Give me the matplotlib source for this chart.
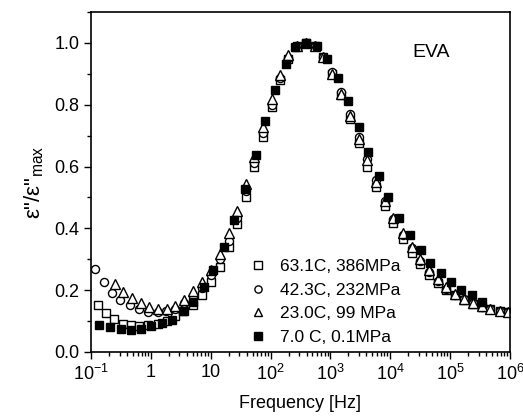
import matplotlib
matplotlib.use("Agg")
import matplotlib.pyplot as plt
from matplotlib.ticker import FixedLocator, FixedFormatter, LogLocator, MultipleLocator, NullFormatter

plt.rcParams["font.family"] = ["Liberation Sans", "DejaVu Sans"]
plt.rcParams["mathtext.fontset"] = "custom"
plt.rcParams["mathtext.rm"] = "Liberation Sans"
plt.rcParams["mathtext.it"] = "Liberation Sans:italic"
plt.rcParams["mathtext.default"] = "regular"

# log10 of frequency [Hz] and normalised loss
logf_63 = [-0.89, -0.75, -0.62, -0.47, -0.34, -0.19, -0.04, 0.12, 0.27, 0.41, 0.56,
           0.71, 0.85, 1.00, 1.15, 1.30, 1.44, 1.59, 1.73, 1.88, 2.02, 2.16, 2.30,
           2.45, 2.60, 2.75, 2.88, 3.03, 3.17, 3.32, 3.47, 3.62, 3.76, 3.91, 4.05,
           4.21, 4.36, 4.50, 4.65, 4.79, 4.94, 5.09, 5.23, 5.38, 5.53, 5.67, 5.83, 5.97]
eps_63 = [0.153, 0.126, 0.106, 0.091, 0.086, 0.085, 0.086, 0.090, 0.101, 0.115, 0.131,
          0.151, 0.185, 0.225, 0.276, 0.339, 0.413, 0.502, 0.597, 0.696, 0.792, 0.881, 0.948,
          0.989, 1.000, 0.990, 0.955, 0.900, 0.830, 0.755, 0.677, 0.600, 0.535, 0.473, 0.416,
          0.365, 0.320, 0.284, 0.249, 0.223, 0.200, 0.183, 0.169, 0.156, 0.147, 0.139, 0.134, 0.130]

logf_42 = [-0.93, -0.79, -0.65, -0.51, -0.35, -0.20, -0.05, 0.12, 0.26, 0.41, 0.56,
           0.71, 0.85, 1.00, 1.15, 1.30, 1.44, 1.59, 1.73, 1.88, 2.02, 2.16, 2.30,
           2.45, 2.60, 2.75, 2.88, 3.03, 3.17, 3.32, 3.47, 3.62, 3.76, 3.91, 4.05,
           4.21, 4.36, 4.50, 4.65, 4.79, 4.94, 5.09, 5.23, 5.38, 5.53, 5.67, 5.83, 5.97]
eps_42 = [0.268, 0.226, 0.190, 0.169, 0.153, 0.139, 0.129, 0.128, 0.132, 0.140, 0.160,
          0.180, 0.208, 0.248, 0.300, 0.360, 0.435, 0.520, 0.610, 0.710, 0.800, 0.885, 0.950,
          0.990, 1.000, 0.990, 0.955, 0.905, 0.840, 0.770, 0.695, 0.625, 0.555, 0.490, 0.430,
          0.380, 0.335, 0.295, 0.258, 0.230, 0.205, 0.185, 0.170, 0.157, 0.147, 0.139, 0.134, 0.130]

logf_23 = [-0.60, -0.46, -0.32, -0.17, -0.03, 0.12, 0.27, 0.41, 0.56,
           0.71, 0.85, 1.00, 1.15, 1.30, 1.44, 1.59, 1.73, 1.88, 2.02, 2.16, 2.30,
           2.45, 2.60, 2.75, 2.88, 3.03, 3.17, 3.32, 3.47, 3.62, 3.76, 3.91, 4.05,
           4.21, 4.36, 4.50, 4.65, 4.79, 4.94, 5.09, 5.23, 5.38, 5.53, 5.67, 5.83, 5.97]
eps_23 = [0.220, 0.193, 0.174, 0.158, 0.145, 0.139, 0.139, 0.150, 0.167,
          0.196, 0.225, 0.265, 0.317, 0.384, 0.457, 0.545, 0.630, 0.728, 0.820, 0.895, 0.960,
          0.990, 1.000, 0.990, 0.955, 0.900, 0.835, 0.765, 0.690, 0.620, 0.550, 0.490, 0.435,
          0.385, 0.340, 0.300, 0.265, 0.235, 0.210, 0.188, 0.172, 0.158, 0.148, 0.139, 0.134, 0.130]

logf_7 = [-0.87, -0.68, -0.50, -0.34, -0.17, 0.01, 0.18, 0.35, 0.54, 0.71, 0.88,
          1.04, 1.22, 1.39, 1.57, 1.75, 1.91, 2.08, 2.25, 2.41, 2.59, 2.77, 2.94,
          3.12, 3.29, 3.47, 3.63, 3.81, 3.97, 4.15, 4.33, 4.51, 4.67, 4.84, 5.02,
          5.19, 5.36, 5.53]
eps_7 = [0.088, 0.080, 0.074, 0.072, 0.075, 0.083, 0.094, 0.104, 0.131, 0.163, 0.210,
         0.266, 0.341, 0.427, 0.526, 0.637, 0.747, 0.848, 0.932, 0.986, 1.000, 0.989, 0.948,
         0.887, 0.811, 0.728, 0.647, 0.570, 0.500, 0.435, 0.378, 0.330, 0.289, 0.255, 0.226,
         0.201, 0.183, 0.161]

labels = ["63.1C, 386MPa", "42.3C, 232MPa", "23.0C, 99 MPa", "7.0 C, 0.1MPa"]
xtick_vals = [1e-1, 1, 10, 1e2, 1e3, 1e4, 1e5, 1e6]
xtick_text = ["$10^{-1}$", "1", "10", "$10^2$", "$10^3$", "$10^4$", "$10^5$", "$10^6$"]


def main():
    fig = plt.figure(figsize=(5.23, 4.16), dpi=100)
    ax = fig.add_axes([0.174, 0.154, 0.801, 0.817])

    ms = 5.8
    ax.plot([10 ** v for v in logf_63], eps_63, "s", ms=ms, mfc="white", mec="black",
            mew=1.0, label=labels[0])
    ax.plot([10 ** v for v in logf_42], eps_42, "o", ms=ms, mfc="white", mec="black",
            mew=1.0, label=labels[1])
    ax.plot([10 ** v for v in logf_23], eps_23, "^", ms=ms + 0.8, mfc="white", mec="black",
            mew=1.0, label=labels[2])
    ax.plot([10 ** v for v in logf_7], eps_7, "s", ms=ms, mfc="black", mec="black",
            mew=1.0, label=labels[3])

    ax.set_xscale("log")
    ax.set_xlim(1e-1, 1e6)
    ax.set_ylim(0, 1.1)

    ax.xaxis.set_major_locator(FixedLocator(xtick_vals))
    ax.xaxis.set_major_formatter(FixedFormatter(xtick_text))
    ax.xaxis.set_minor_locator(LogLocator(base=10, subs=range(2, 10), numticks=20))
    ax.xaxis.set_minor_formatter(NullFormatter())
    ax.yaxis.set_major_locator(MultipleLocator(0.2))
    ax.yaxis.set_minor_locator(MultipleLocator(0.1))
    ax.yaxis.set_major_formatter(plt.FuncFormatter(lambda v, p: f"{v:.1f}"))

    ax.tick_params(which="both", direction="out", top=False, right=False,
                   labelsize=13, width=1)
    ax.tick_params(which="major", length=5)
    ax.tick_params(which="minor", length=3)
    for s in ax.spines.values():
        s.set_linewidth(1.2)

    ax.set_xlabel("Frequency [Hz]", fontsize=13, labelpad=8)
    ax.set_ylabel('ε"/ε"$_{max}$', fontsize=16, labelpad=6)
    ax.text(10 ** 4.69, 0.97, "EVA", fontsize=14, ha="center", va="center")

    ax.legend(loc="lower left", bbox_to_anchor=(0.345, -0.02), frameon=False, fontsize=12.5,
              handlelength=1.0, handletextpad=0.75, labelspacing=0.48, borderpad=0.3,
              markerscale=0.9)

    fig.savefig("out.png", dpi=100)


if __name__ == "__main__":
    main()
